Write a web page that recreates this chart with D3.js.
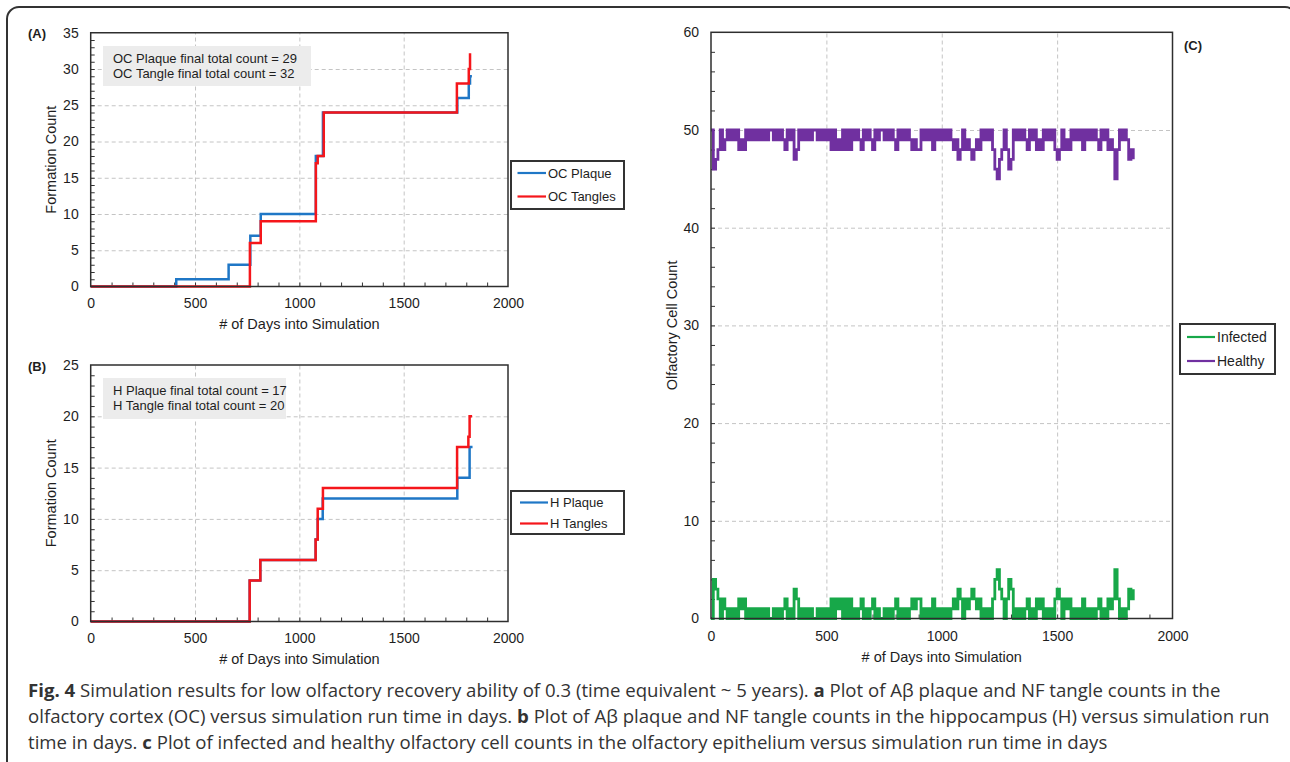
<!DOCTYPE html>
<html><head><meta charset="utf-8">
<script src="https://cdn.jsdelivr.net/npm/d3@7"></script>
<style>html,body{margin:0;padding:0;background:#fff;} svg{display:block;}</style>
</head><body>
<svg id="fig" width="1290" height="762"></svg>
<script>
// ---------------- DATA ----------------
const xTicks = [0, 500, 1000, 1500, 2000];

// Panel A (olfactory cortex)
const ocPlaqueDays   = [0, 410, 661, 765, 815, 1079, 1113, 1757, 1812, 1818, 1827];
const ocPlaqueCounts = [0, 1, 3, 7, 10, 18, 24, 26, 28, 29, 29];
const ocTangleDays   = [0, 763, 815, 1079, 1088, 1117, 1755, 1812, 1818, 1824];
const ocTangleCounts = [0, 6, 9, 17, 18, 24, 28, 30, 32, 32];
const aYTicks = [0, 5, 10, 15, 20, 25, 30, 35];

// Panel B (hippocampus)
const hPlaqueDays   = [0, 762, 813, 1078, 1088, 1112, 1757, 1816, 1830];
const hPlaqueCounts = [0, 4, 6, 8, 10, 12, 14, 17, 17];
const hTangleDays   = [0, 762, 813, 1078, 1088, 1113, 1756, 1810, 1816, 1828];
const hTangleCounts = [0, 4, 6, 8, 11, 13, 17, 18, 20, 20];
const bYTicks = [0, 5, 10, 15, 20, 25];

// Panel C (olfactory epithelium), one reading every 10 days from day 0
const cellSampleStep = 10;
const healthyCounts = [
  50,46,47,48,50,48,49,50,49,50, 49,50,48,49,48,50,49,50,49,50,
  49,50,49,50,49,50,50,49,50,49, 50,49,48,50,49,50,47,48,50,49,
  50,49,50,49,50,50,49,50,49,50, 49,50,48,50,48,49,48,50,48,50,
  48,50,49,50,49,48,50,49,50,49, 48,50,49,50,50,49,50,49,50,49,
  48,50,49,50,49,50,49,48,49,48, 48,50,49,50,49,50,48,50,49,50,
  49,50,49,50,49,48,49,47,48,50, 48,49,48,47,48,49,48,50,49,50,
  49,50,48,46,45,47,48,50,48,46, 47,50,49,50,49,50,49,48,50,49,
  50,48,49,48,50,49,50,49,50,48, 47,48,50,48,49,48,50,49,50,49,
  50,48,50,49,50,49,50,49,48,50, 49,50,48,49,48,45,48,50,49,50,
  49,47,48,47];
const infectedCounts = [
  0,4,3,2,0,2,1,0,1,0, 1,0,2,1,2,0,1,0,1,0,
  1,0,1,0,1,0,0,1,0,1, 0,1,2,0,1,0,3,2,0,1,
  0,1,0,1,0,0,1,0,1,0, 1,0,2,0,2,1,2,0,2,0,
  2,0,1,0,1,2,0,1,0,1, 2,0,1,0,0,1,0,1,0,1,
  2,0,1,0,1,0,1,2,1,2, 2,0,1,0,1,0,2,0,1,0,
  1,0,1,0,1,2,1,3,2,0, 2,1,2,3,2,1,2,0,1,0,
  1,0,2,4,5,3,2,0,2,4, 3,0,1,0,1,0,1,2,0,1,
  0,2,1,2,0,1,0,1,0,2, 3,2,0,2,1,2,0,1,0,1,
  0,2,0,1,0,1,0,1,2,0, 1,0,2,1,2,5,2,0,1,0,
  1,3,2,3];
const cYTicks = [0, 10, 20, 30, 40, 50, 60];

// ---------------- DRAW ----------------
const svg = d3.select('#fig');
const FONT = "'Liberation Sans', Arial, sans-serif";
const TXT = '#1e1e1e';
const BLUE = '#1f77c6', RED = '#f5161b', GREEN = '#17a849', PURPLE = '#7030a0';

svg.append('rect').attr('x', 7).attr('y', 7).attr('width', 1290).attr('height', 800)
  .attr('rx', 12).attr('fill', 'none').attr('stroke', '#333').attr('stroke-width', 2);

function zip(days, vals) { return days.map((d, i) => [d, vals[i]]); }

function panel(cfg) {
  const g = svg.append('g');
  const x = d3.scaleLinear().domain([0, 2000]).range([cfg.left, cfg.right]);
  const y = d3.scaleLinear().domain([0, cfg.yMax]).range([cfg.bottom, cfg.top]);
  const h = cfg.bottom - cfg.top, w = cfg.right - cfg.left;

  // grid
  const gx = g.append('g').attr('transform', `translate(0,${cfg.bottom})`)
    .call(d3.axisBottom(x).tickValues([500, 1000, 1500]).tickSize(-h).tickFormat(''));
  const gy = g.append('g').attr('transform', `translate(${cfg.left},0)`)
    .call(d3.axisLeft(y).tickValues(cfg.yTicks.slice(1, -1)).tickSize(-w).tickFormat(''));
  [gx, gy].forEach(a => {
    a.select('.domain').remove();
    a.selectAll('line').attr('stroke', '#c4c4c4').attr('stroke-dasharray', '4,3').attr('stroke-width', 1);
  });

  // minor ticks (inside)
  const mx = g.append('g').attr('transform', `translate(0,${cfg.bottom})`)
    .call(d3.axisBottom(x).tickValues(d3.range(100, 2000, 100)).tickSize(-4).tickFormat(''));
  const my = g.append('g').attr('transform', `translate(${cfg.left},0)`)
    .call(d3.axisLeft(y).tickValues(d3.range(cfg.yMinor, cfg.yMax, cfg.yMinor)).tickSize(-4).tickFormat(''));
  [mx, my].forEach(a => {
    a.select('.domain').remove();
    a.selectAll('line').attr('stroke', '#333').attr('stroke-width', 1);
  });

  // labels
  const lx = g.append('g').attr('transform', `translate(0,${cfg.bottom})`)
    .call(d3.axisBottom(x).tickValues(xTicks).tickSize(0).tickPadding(cfg.xPad).tickFormat(d3.format('d')));
  const ly = g.append('g').attr('transform', `translate(${cfg.left},0)`)
    .call(d3.axisLeft(y).tickValues(cfg.yTicks).tickSize(0).tickPadding(12).tickFormat(d3.format('d')));
  [lx, ly].forEach(a => {
    a.select('.domain').remove();
    a.selectAll('text').attr('font-family', FONT).attr('font-size', 14).attr('fill', TXT);
  });

  // series
  const line = d3.line().x(d => x(d[0])).y(d => y(d[1])).curve(d3.curveStepAfter);
  cfg.series.forEach(s => {
    g.append('path').datum(s.pts).attr('d', line).attr('fill', 'none')
      .attr('stroke', s.color).attr('stroke-width', cfg.lw).attr('stroke-linejoin', 'miter');
  });

  // frame
  g.append('rect').attr('x', cfg.left).attr('y', cfg.top).attr('width', w).attr('height', h)
    .attr('fill', 'none').attr('stroke', '#2e2e2e').attr('stroke-width', 1.5);

  // titles
  g.append('text').attr('x', (cfg.left + cfg.right) / 2).attr('y', cfg.xTitleY)
    .attr('text-anchor', 'middle').attr('font-family', FONT).attr('font-size', 14.5).attr('fill', TXT)
    .text('# of Days into Simulation');
  g.append('text').attr('transform', `translate(${cfg.yTitleX},${(cfg.top + cfg.bottom) / 2}) rotate(-90)`)
    .attr('text-anchor', 'middle').attr('dy', '0.35em').attr('font-family', FONT).attr('font-size', 14.5).attr('fill', TXT)
    .text(cfg.yTitle);
  g.append('text').attr('x', cfg.label[0]).attr('y', cfg.label[1]).attr('font-family', FONT)
    .attr('font-weight', 'bold').attr('font-size', 13).attr('fill', TXT).text(cfg.label[2]);

  // annotation box
  if (cfg.note) {
    const n = cfg.note;
    g.append('rect').attr('x', n.x).attr('y', n.y).attr('width', n.w).attr('height', n.h).attr('fill', '#ececec');
    n.lines.forEach((t, i) => {
      g.append('text').attr('x', n.x + 10).attr('y', n.y + 16.5 + i * 15.5).attr('font-family', FONT)
        .attr('font-size', 13).attr('fill', TXT).text(t);
    });
  }

  // legend
  const L = cfg.legend;
  g.append('rect').attr('x', L.x).attr('y', L.y).attr('width', L.w).attr('height', L.h)
    .attr('fill', '#fff').attr('stroke', '#333').attr('stroke-width', 2);
  cfg.series.forEach((s, i) => {
    const yy = L.y + L.first + i * L.gap;
    g.append('line').attr('x1', L.x + L.l0).attr('x2', L.x + L.l1).attr('y1', yy).attr('y2', yy)
      .attr('stroke', s.color).attr('stroke-width', 2.2);
    g.append('text').attr('x', L.x + L.l1 + 2).attr('y', yy).attr('dy', '0.35em').attr('font-family', FONT)
      .attr('font-size', L.fs).attr('fill', TXT).text(s.name);
  });
}

panel({
  left: 90.7, right: 508, top: 32.75, bottom: 286.5, yMax: 35, yTicks: aYTicks, yMinor: 1,
  xPad: 11.5, xTitleY: 329, yTitleX: 51, yTitle: 'Formation Count', lw: 2.5,
  label: [28, 37.5, '(A)'],
  note: { x: 103, y: 46, w: 208, h: 40, lines: ['OC Plaque final total count = 29', 'OC Tangle final total count = 32'] },
  legend: { x: 511, y: 161, w: 113, h: 48, first: 12, gap: 23.5, l0: 6.5, l1: 35, fs: 13 },
  series: [
    { name: 'OC Plaque', color: BLUE, pts: zip(ocPlaqueDays, ocPlaqueCounts) },
    { name: 'OC Tangles', color: RED, pts: zip(ocTangleDays, ocTangleCounts) }
  ]
});

panel({
  left: 90.7, right: 508, top: 365, bottom: 621.5, yMax: 25, yTicks: bYTicks, yMinor: 1,
  xPad: 11.5, xTitleY: 664, yTitleX: 51, yTitle: 'Formation Count', lw: 2.5,
  label: [28, 370.5, '(B)'],
  note: { x: 103, y: 378, w: 183, h: 41, lines: ['H Plaque final total count = 17', 'H Tangle final total count = 20'] },
  legend: { x: 511, y: 491, w: 113, h: 43, first: 11.5, gap: 21, l0: 9, l1: 37, fs: 13 },
  series: [
    { name: 'H Plaque', color: BLUE, pts: zip(hPlaqueDays, hPlaqueCounts) },
    { name: 'H Tangles', color: RED, pts: zip(hTangleDays, hTangleCounts) }
  ]
});

panel({
  left: 711, right: 1172.5, top: 32.3, bottom: 618.5, yMax: 60, yTicks: cYTicks, yMinor: 2,
  xPad: 13, xTitleY: 662, yTitleX: 672, yTitle: 'Olfactory Cell Count', lw: 2.8,
  label: [1184, 49.5, '(C)'],
  legend: { x: 1180, y: 324, w: 95, h: 50, first: 13, gap: 24, l0: 7, l1: 35, fs: 14 },
  series: [
    { name: 'Infected', color: GREEN, pts: infectedCounts.map((v, i) => [i * cellSampleStep, v]) },
    { name: 'Healthy', color: PURPLE, pts: healthyCounts.map((v, i) => [i * cellSampleStep, v]) }
  ]
});

// ---------------- CAPTION ----------------
const CAP = "'Open Sans', 'Noto Sans', sans-serif";
const capLines = [
  [['Fig. 4', true], [' Simulation results for low olfactory recovery ability of 0.3 (time equivalent ~ 5 years). ', false], ['a', true], [' Plot of Aβ plaque and NF tangle counts in the', false]],
  [['olfactory cortex (OC) versus simulation run time in days. ', false], ['b', true], [' Plot of Aβ plaque and NF tangle counts in the hippocampus (H) versus simulation run', false]],
  [['time in days. ', false], ['c', true], [' Plot of infected and healthy olfactory cell counts in the olfactory epithelium versus simulation run time in days', false]]
];
capLines.forEach((parts, i) => {
  const t = svg.append('text').attr('x', 28).attr('y', 697 + i * 26).attr('font-family', CAP)
    .attr('font-size', 18.6).attr('fill', '#333').attr('xml:space', 'preserve');
  parts.forEach(p => t.append('tspan').attr('font-weight', p[1] ? 'bold' : 'normal').text(p[0]));
});
</script>
</body></html>
